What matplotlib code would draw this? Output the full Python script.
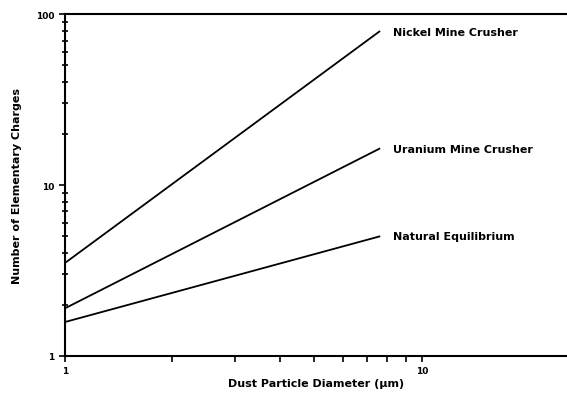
import matplotlib.pyplot as plt
from matplotlib.ticker import FixedLocator, NullFormatter, LogLocator

# diameter (um) at both line ends, charges at each end
diameter = [1.0, 7.6]
nickel = [3.5, 79]
uranium = [1.9, 16.3]
natural = [1.58, 5.0]
labels = ["Nickel Mine Crusher", "Uranium Mine Crusher", "Natural Equilibrium"]
x_minor = [2, 3, 4, 5, 6, 7, 8, 9]

fig = plt.figure(figsize=(5.67, 4.06), dpi=100)
ax = fig.add_axes([0.1146, 0.1207, 0.8854, 0.8423])

for vals, lab in zip([nickel, uranium, natural], labels):
    ax.plot(diameter, vals, color="black", lw=1.3)
    ax.text(diameter[-1] * 1.09, vals[-1], lab, fontsize=8, fontweight="bold",
            va="center", ha="left")

ax.set_xscale("log")
ax.set_yscale("log")
ax.set_xlim(1, 25.5)
ax.set_ylim(1, 100)

ax.xaxis.set_major_locator(FixedLocator([1, 10]))
ax.set_xticklabels(["1", "10"])
ax.xaxis.set_minor_locator(FixedLocator(x_minor))
ax.xaxis.set_minor_formatter(NullFormatter())
ax.yaxis.set_major_locator(FixedLocator([1, 10, 100]))
ax.set_yticklabels(["1", "10", "100"])
ax.yaxis.set_minor_locator(LogLocator(base=10, subs=range(2, 10)))
ax.yaxis.set_minor_formatter(NullFormatter())

ax.tick_params(which="major", direction="out", length=4, width=1.2,
               labelsize=6.5)
ax.tick_params(axis="x", which="minor", direction="out", length=4, width=1.2)
ax.tick_params(axis="y", which="minor", direction="inout", length=4, width=1.2)
for lbl in ax.get_xticklabels() + ax.get_yticklabels():
    lbl.set_fontweight("bold")

ax.spines["right"].set_visible(False)
for s in ["left", "bottom", "top"]:
    ax.spines[s].set_linewidth(1.5)

ax.set_xlabel("Dust Particle Diameter (\u03bcm)", fontsize=8, fontweight="bold",
              labelpad=2)
ax.set_ylabel("Number of Elementary Charges", fontsize=8, fontweight="bold",
              labelpad=10)

fig.savefig("out.png", dpi=100)
